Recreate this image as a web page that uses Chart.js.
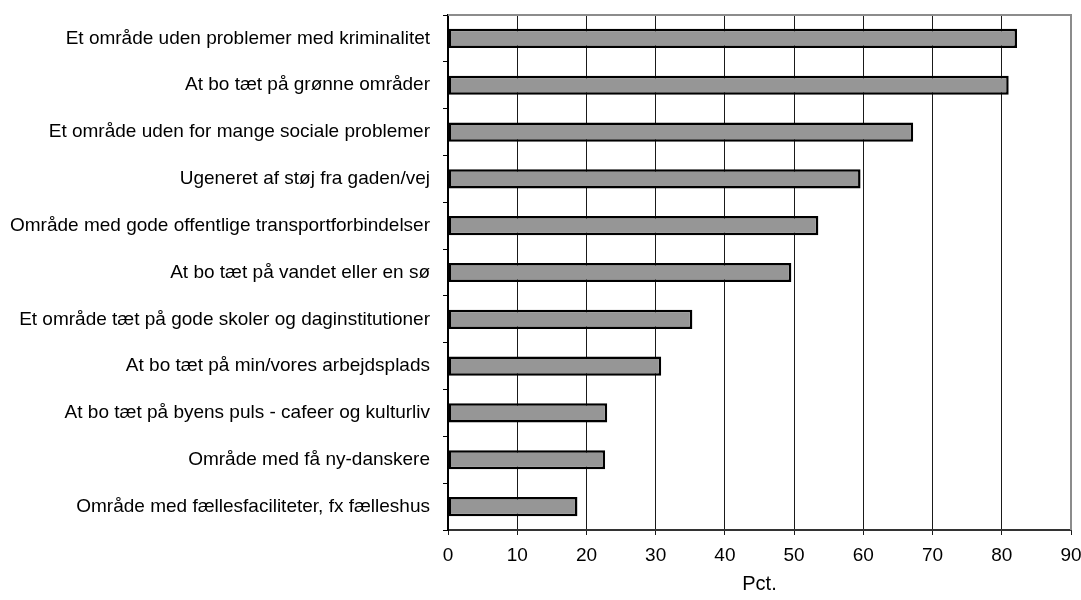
<!DOCTYPE html>
<html>
<head>
<meta charset="utf-8">
<script src="https://cdn.jsdelivr.net/npm/chart.js@4/dist/chart.umd.min.js"></script>
<style>
  html, body { margin: 0; padding: 0; background: #fff; }
  #wrap { width: 1081px; height: 600px; }
</style>
</head>
<body>
<div id="wrap"><canvas id="chart" width="1081" height="600"></canvas></div>
<script>
const categories = [
    "Et område uden problemer med kriminalitet",
    "At bo tæt på grønne områder",
    "Et område uden for mange sociale problemer",
    "Ugeneret af støj fra gaden/vej",
    "Område med gode offentlige transportforbindelser",
    "At bo tæt på vandet eller en sø",
    "Et område tæt på gode skoler og daginstitutioner",
    "At bo tæt på min/vores arbejdsplads",
    "At bo tæt på byens puls - cafeer og kulturliv",
    "Område med få ny-danskere",
    "Område med fællesfaciliteter, fx fælleshus"
];
const values = [82.2, 81.0, 67.2, 59.6, 53.5, 49.6, 35.3, 30.8, 23.0, 22.7, 18.7];
const xTicks = [0, 10, 20, 30, 40, 50, 60, 70, 80, 90];
const axisTitle = "Pct.";

const fontFamily = "'Liberation Sans', Arial, sans-serif";

// gray frame on top and right of the plot area
const framePlugin = {
    id: 'frame',
    afterDraw(chart) {
        const { ctx, chartArea } = chart;
        ctx.save();
        ctx.strokeStyle = '#8c8c8c';
        ctx.lineWidth = 2;
        ctx.beginPath();
        ctx.moveTo(chartArea.left, chartArea.top);
        ctx.lineTo(chartArea.right, chartArea.top);
        ctx.lineTo(chartArea.right, chartArea.bottom);
        ctx.stroke();
        ctx.restore();
    }
};

const ctx = document.getElementById('chart').getContext('2d');
new Chart(ctx, {
    type: 'bar',
    data: {
        labels: categories,
        datasets: [{
            data: values,
            backgroundColor: '#969696',
            borderColor: '#000000',
            borderWidth: 2.5,
            borderSkipped: false,
            categoryPercentage: 1,
            barPercentage: 0.41
        }]
    },
    options: {
        indexAxis: 'y',
        responsive: false,
        animation: false,
        layout: { padding: { left: 0, right: 10, top: 15, bottom: 0 } },
        plugins: {
            legend: { display: false },
            tooltip: { enabled: false }
        },
        scales: {
            x: {
                min: 0,
                max: 90,
                afterBuildTicks: (scale) => {
                    scale.ticks = xTicks.map(v => ({ value: v }));
                },
                afterFit: (scale) => {
                    scale.height = 70;
                    scale.paddingLeft = 0;
                    scale.paddingRight = 0;
                },
                grid: {
                    color: '#1a1a1a',
                    lineWidth: 1,
                    drawTicks: true,
                    tickLength: 5
                },
                border: { color: '#333333', width: 2 },
                ticks: {
                    color: '#000',
                    padding: 9,
                    maxRotation: 0,
                    font: { family: fontFamily, size: 19 }
                },
                title: {
                    display: true,
                    text: axisTitle,
                    color: '#000',
                    padding: { top: 2, bottom: 4 },
                    font: { family: fontFamily, size: 20 }
                }
            },
            y: {
                afterFit: (scale) => {
                    scale.width = 448;
                    scale.paddingTop = 0;
                    scale.paddingBottom = 0;
                },
                grid: {
                    offset: true,
                    drawOnChartArea: false,
                    drawTicks: true,
                    tickLength: 5,
                    color: '#000'
                },
                border: { color: '#000', width: 2 },
                ticks: {
                    color: '#000',
                    padding: 13,
                    autoSkip: false,
                    font: { family: fontFamily, size: 19 }
                }
            }
        }
    },
    plugins: [framePlugin]
});
</script>
</body>
</html>
